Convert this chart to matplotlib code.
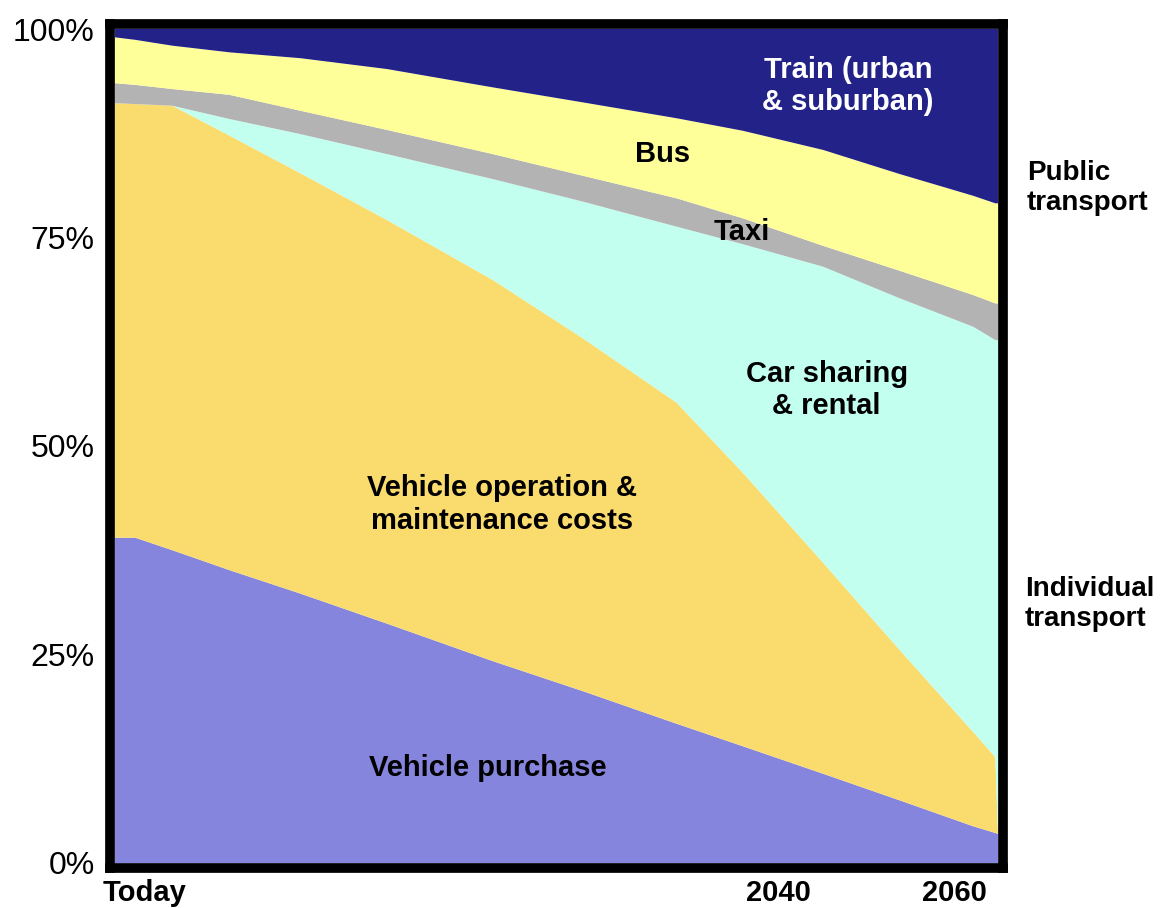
import numpy as np
import matplotlib
matplotlib.use('Agg')
import matplotlib.pyplot as plt

plt.rcParams['font.family'] = ['Liberation Sans', 'DejaVu Sans']

# x position along the timeline (0 = today, 100 = end of chart, roughly 2065)
x = [0, 2.3, 6.5, 13.0, 21.0, 30.8, 42.8, 53.0, 63.6, 71.1, 80.2, 88.9, 97.2, 99.7, 100]

# share of each cost block in % (bottom to top)
purchase = [39.0, 39.0, 37.5, 35.1, 32.3, 28.7, 24.2, 20.6, 16.7, 14.0, 10.7, 7.5, 4.4, 3.6, 3.5]
operation = [52.1, 52.0, 53.3, 52.1, 50.4, 48.4, 45.7, 42.3, 38.5, 32.8, 25.3, 18.0, 11.3, 9.1, 0.0]
car_sharing = [0.0, 0.0, 0.0, 2.0, 4.7, 7.9, 12.1, 16.4, 21.1, 27.4, 35.5, 42.2, 48.6, 50.0, 59.2]
taxi = [2.4, 2.3, 2.0, 2.9, 2.8, 2.9, 3.0, 3.1, 3.4, 3.1, 2.5, 3.3, 3.8, 4.4, 4.4]
bus = [5.5, 5.4, 5.2, 5.1, 6.3, 7.3, 8.0, 8.8, 9.6, 10.5, 11.5, 11.6, 11.9, 12.0, 12.0]
train = [1.0, 1.3, 2.0, 2.8, 3.5, 4.8, 7.0, 8.8, 10.7, 12.2, 14.5, 17.4, 20.0, 20.9, 20.9]

colors = ['#8585dd', '#fadc6e', '#c2ffee', '#b3b3b3', '#ffff99', '#222288']

yticks = [0, 25, 50, 75, 100]
ytick_labels = ['0%', '25%', '50%', '75%', '100%']
xticks = [3.4, 75.1, 95.1]
xtick_labels = ['Today', '2040', '2060']

W, H = 1166, 908
fig = plt.figure(figsize=(W / 100, H / 100), dpi=100)
# axes box sits on the centre line of the thick frame
ax = fig.add_axes([110 / W, 1 - 868 / H, 893 / W, 844 / H])

ax.stackplot(x, purchase, operation, car_sharing, taxi, bus, train,
             colors=colors, linewidth=0)

ax.set_xlim(-0.57, 100.57)
ax.set_ylim(-0.6, 100.6)

for s in ax.spines.values():
    s.set_linewidth(7)
    s.set_color('black')

ax.set_yticks(yticks)
ax.set_yticklabels(ytick_labels, fontsize=23)
ax.set_xticks(xticks)
ax.set_xticklabels(xtick_labels, fontsize=21, fontweight='bold')
ax.tick_params(axis='y', length=0, pad=11)
ax.tick_params(axis='x', length=0, pad=8)

lab = dict(fontsize=21, fontweight='bold', ha='center', va='center')
ax.text(83.0, 93.2, 'Train (urban\n& suburban)', color='white', **lab)
ax.text(62.0, 85.0, 'Bus', color='black', **lab)
ax.text(71.0, 75.6, 'Taxi', color='black', **lab)
ax.text(80.6, 56.7, 'Car sharing\n& rental', color='black', **lab)
ax.text(43.8, 43.0, 'Vehicle operation &\nmaintenance costs', color='black', **lab)
ax.text(42.2, 11.4, 'Vehicle purchase', color='black', **lab)

fig.text(1027 / W, 1 - 188 / H, 'Public\ntransport', fontsize=20,
         fontweight='bold', ha='left', va='center')
fig.text(1025 / W, 1 - 604 / H, 'Individual\ntransport', fontsize=20,
         fontweight='bold', ha='left', va='center')

fig.savefig('out.png', dpi=100)
